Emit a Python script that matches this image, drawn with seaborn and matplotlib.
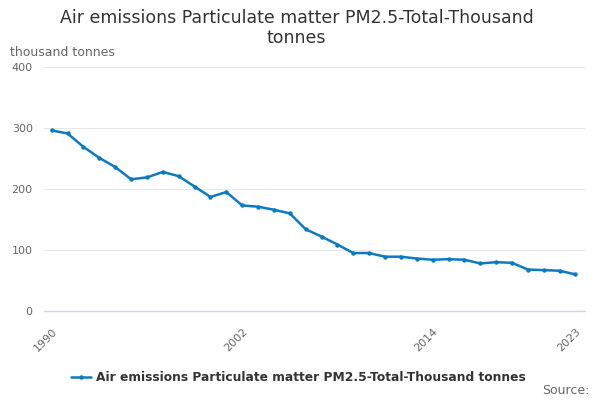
import matplotlib
matplotlib.use("Agg")
import matplotlib.pyplot as plt
import pandas as pd
import seaborn as sns

# Values (thousand tonnes)
years = list(range(1990, 2024))
values = [
    296, 291, 269, 251, 236, 216, 219, 228, 221, 204,
    187, 195, 173, 171, 166, 160, 134, 122, 109, 95,
    95, 89, 89, 86, 84, 85, 84, 78, 80, 79,
    68, 67, 66, 60,
]
series_name = "Air emissions Particulate matter PM2.5-Total-Thousand tonnes"
tick_years = list(range(1990, 2024, 3))
label_years = [1990, 2002, 2014, 2023]

df = pd.DataFrame({"year": years, "value": values})

sns.set_style("white")
plt.rcParams["font.family"] = ["DejaVu Sans"]

fig = plt.figure(figsize=(6, 4), dpi=100)
ax = fig.add_axes([0.073, 0.2225, 0.902, 0.61])

sns.lineplot(
    data=df, x="year", y="value", ax=ax, color="#0b7bc1",
    linewidth=1.8, marker="o", markersize=3.2, markeredgewidth=0,
    label=series_name,
)

ax.set_xlim(1989.5, 2023.6)
ax.set_ylim(0, 400)
ax.set_yticks([0, 100, 200, 300, 400])
ax.yaxis.grid(True, color="#e6e6e6", linewidth=0.8)
ax.set_axisbelow(True)
for s in ["top", "right", "left"]:
    ax.spines[s].set_visible(False)
ax.spines["bottom"].set_color("#ccd6eb")
ax.spines["bottom"].set_linewidth(1)

ax.set_xticks(tick_years)
ax.set_xticklabels([str(y) if y in label_years else "" for y in tick_years],
                   rotation=45, ha="right", rotation_mode="anchor")
ax.tick_params(axis="x", length=9, color="#ccd6eb", width=1,
               labelsize=8, labelcolor="#666666", pad=2)
ax.tick_params(axis="y", length=0, labelsize=8, labelcolor="#666666", pad=8)
ax.set_xlabel("")
ax.set_ylabel("")

fig.text(0.494, 0.978, "Air emissions Particulate matter PM2.5-Total-Thousand\ntonnes",
         ha="center", va="top", fontsize=12.5, color="#333333", linespacing=1.15)
fig.text(0.017, 0.87, "thousand tonnes", ha="left", va="center",
         fontsize=9, color="#666666")

leg = ax.legend(loc="upper center", bbox_to_anchor=(0.47, -0.2), frameon=False,
                fontsize=8.8, handlelength=1.6, handletextpad=0.4)
for t in leg.get_texts():
    t.set_color("#333333")
    t.set_fontweight("bold")

fig.text(0.982, 0.025, "Source:", ha="right", va="center",
         fontsize=9, color="#666666")

fig.savefig("out.png", dpi=100)
